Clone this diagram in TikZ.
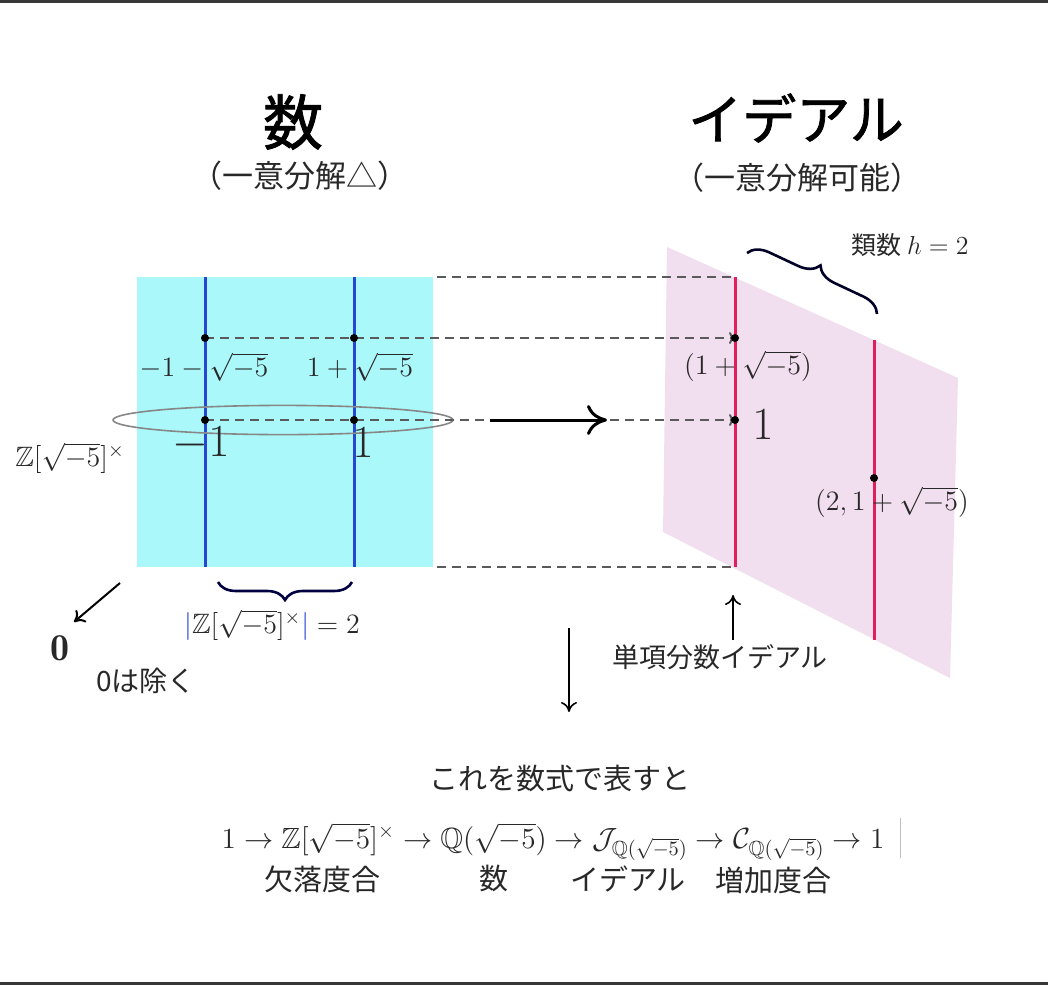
\RequirePackage{fix-cm}
\documentclass[tikz,border=0pt]{standalone}
\usepackage{amssymb}
\usepackage{fontspec}
\newfontfamily\jp{Noto Sans CJK JP}
\newfontfamily\jpbold{Noto Sans CJK JP}[FakeBold=1.4]
\usetikzlibrary{arrows.meta,decorations.pathreplacing}
\definecolor{cyanf}{RGB}{170,248,250}
\definecolor{pinkf}{RGB}{241,222,238}
\definecolor{bluel}{RGB}{40,70,210}
\definecolor{redl}{RGB}{226,30,92}
\definecolor{dashc}{RGB}{90,90,90}
\definecolor{ellc}{RGB}{135,135,135}
\definecolor{barc}{RGB}{55,55,55}
\definecolor{txtc}{RGB}{40,40,40}
\begin{document}
\begin{tikzpicture}[x=0.5pt,y=-0.5pt,
  every node/.style={inner sep=0pt, text=txtc},
  title/.style={font=\jpbold\fontsize{#1}{#1}\selectfont, text=black},
  jpt/.style={font=\jp\fontsize{#1}{#1}\selectfont},
  mth/.style={font=\fontsize{#1}{#1}\selectfont},
  blueline/.style={draw=bluel, line width=1.5pt},
  redline/.style={draw=redl, line width=1.5pt},
  dashline/.style={draw=dashc, line width=1pt, dash pattern=on 4.5pt off 3pt},
  dasharrow/.style={dashline, -{To[length=3pt,width=6pt]}},
  dotpt/.style={fill=black},
  thinarrow/.style={draw=black, line width=0.8pt, -{To[length=5pt,width=8pt]}},
  bigarrow/.style={draw=black, line width=1.5pt, -{To[length=10pt,width=15pt,line width=1.5pt]}},
  bracedec/.style={decorate, decoration={brace, amplitude=#1}, line width=1.3pt}
]
\useasboundingbox (0,0) rectangle (1048,985);
\fill[white] (0,0) rectangle (1048,985);
\fill[barc] (0,0) rectangle (1048,3);
\fill[barc] (0,982) rectangle (1048,985);

% planes
\fill[cyanf] (137,277) rectangle (433,567);
\fill[pinkf] (667,247) -- (958,378) -- (950,678) -- (663,532) -- cycle;

% coordinates
\coordinate (bl1t) at (205,277); \coordinate (bl1b) at (205,567);
\coordinate (bl2t) at (354,277); \coordinate (bl2b) at (354,567);
\coordinate (rl1t) at (735,277); \coordinate (rl1b) at (735,567);
\coordinate (rl2t) at (874,340); \coordinate (rl2b) at (874,640);
\coordinate (pA) at (205,338); \coordinate (pB) at (354,338);
\coordinate (pC) at (205,420); \coordinate (pD) at (354,420);
\coordinate (qA) at (735,338); \coordinate (qB) at (735,420);
\coordinate (qC) at (874,478);
\coordinate (dt1) at (437,277); \coordinate (db1) at (437,567);
\coordinate (ba1) at (490,420); \coordinate (ba2) at (607,420);
\coordinate (za1) at (120,583); \coordinate (za2) at (74,622);
\coordinate (da1) at (569,628); \coordinate (da2) at (569,712);
\coordinate (ua1) at (733,640); \coordinate (ua2) at (733,595);
\coordinate (brA) at (747,253); \coordinate (brB) at (877,314);
\coordinate (brC) at (352,582); \coordinate (brD) at (218,582);
\coordinate (cur1) at (900,818); \coordinate (cur2) at (900,858);

% lines
\draw[blueline] (bl1t) -- (bl1b);
\draw[blueline] (bl2t) -- (bl2b);
\draw[redline] (rl1t) -- (rl1b);
\draw[redline] (rl2t) -- (rl2b);

% ellipse
\draw[draw=ellc, line width=0.8pt] (283,420) ellipse [x radius=85pt, y radius=7.3pt];

% dashed connectors
\draw[dashline] (dt1) -- (rl1t);
\draw[dashline] (db1) -- (rl1b);
\draw[dasharrow] (pA) -- (qA);
\draw[dasharrow] (pC) -- (qB);

% big arrow
\draw[bigarrow] (ba1) -- (ba2);

% dots
\foreach \p in {pA,pB,pC,pD,qA,qB,qC} \fill[dotpt] (\p) circle [radius=2pt];

% braces
\draw[bracedec=10pt, draw=black!85!blue] (brA) -- (brB);
\draw[bracedec=9pt, draw=black!75!blue] (brC) -- (brD);

% arrows
\draw[thinarrow, line width=1pt] (za1) -- (za2);
\draw[thinarrow] (da1) -- (da2);
\draw[thinarrow] (ua1) -- (ua2);
\draw[draw=black!25, line width=0.5pt] (cur1) -- (cur2);

% titles
\node[title=30] (t1) at (293,122) {数};
\node[jpt=15.5] (s1) at (300,176) {（一意分解△）};
\node[title=27] (t2) at (796,118) {イデアル};
\node[jpt=15.5] (s2) at (797,178) {（一意分解可能）};

% math labels left
\node[mth=14] (labA) at (204,367) {$-1-\sqrt{-5}$};
\node[mth=14] (labB) at (360,367) {$1+\sqrt{-5}$};
\node[mth=23] (labC) at (201,444) {$-1$};
\node[mth=23] (labD) at (363,443) {$1$};
\node[mth=14] (labZ) at (70,458) {$\mathbb{Z}[\sqrt{-5}]^\times$};
\node[mth=14] (labU) at (272,625) {$\color{bluel}|\color{txtc}\mathbb{Z}[\sqrt{-5}]^\times\color{bluel}|\color{txtc}=2$};
\node[mth=19] (zero) at (60,648) {$\mathbf{0}$};
\node[jpt=14] (zt) at (146,681) {0は除く};

% right labels
\node[mth=23] (labE) at (763,425) {$1$};
\node[mth=14] (labQ1) at (748,366) {$(1+\sqrt{-5})$};
\node[mth=14] (labQ2) at (892,502) {$(2,1+\sqrt{-5})$};
\node[font=\jp\fontsize{12.5}{12.5}\selectfont] (hl) at (910,245) {類数 \fontsize{13}{13}\selectfont$h=2$};
\node[jpt=13.5] (tanko) at (720,657) {単項分数イデアル};

% bottom
\node[jpt=14.5] (kore) at (560,778) {これを数式で表すと};
\node[mth=14.6] (form) at (553,842) {$1\to\mathbb{Z}[\sqrt{-5}]^\times\to\mathbb{Q}(\sqrt{-5})\to\mathcal{J}_{\mathbb{Q}(\sqrt{-5})}\to\mathcal{C}_{\mathbb{Q}(\sqrt{-5})}\to 1$};
\node[jpt=14.5] (f1) at (322,879) {欠落度合};
\node[jpt=14.5] (f2) at (494,878) {数};
\node[jpt=14.5] (f3) at (628,879) {イデアル};
\node[jpt=14.5] (f4) at (773,880) {増加度合};
\end{tikzpicture}
\end{document}
